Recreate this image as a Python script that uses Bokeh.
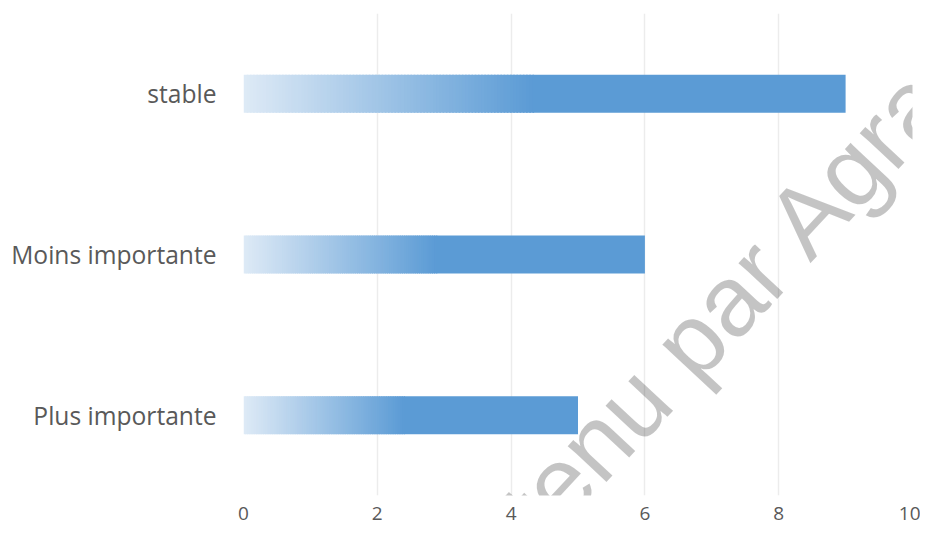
import numpy as np
from bokeh.plotting import figure
from bokeh.models import Range1d, FactorRange, Label, FixedTicker, ColumnDataSource
from bokeh.embed import file_html
from bokeh.resources import INLINE

# ---- data ----
categories = ["Plus importante", "Moins importante", "stable"]
values = [5, 6, 9]
x_ticks = [0, 2, 4, 6, 8, 10]
watermark_text = "obtenu par Agra"

# ---- style ----
LIGHT = np.array([0xDE, 0xEA, 0xF6])
FULL = np.array([0x5B, 0x9B, 0xD5])
GRAD_FRAC = 0.48
N_STEPS = 90
BAR_H = 0.237
TEXT_COLOR = "#595959"
FONT = "Open Sans"

W, H = 920, 532
B_LEFT, B_RIGHT, B_TOP, B_BOTTOM = 243, 8, 13, 37

p = figure(width=W, height=H, output_backend="svg", toolbar_location=None,
           x_range=Range1d(0, 10), y_range=FactorRange(factors=categories),
           min_border_left=B_LEFT, min_border_right=B_RIGHT, min_border_top=B_TOP,
           min_border_bottom=B_BOTTOM)
p.outline_line_color = None
p.background_fill_color = "white"
p.border_fill_color = "white"

# gradient bars: series of thin slices computed from each value
ys, lefts, rights, colors = [], [], [], []
for cat, v in zip(categories, values):
    g_end = v * GRAD_FRAC
    edges = np.linspace(0, g_end, N_STEPS + 1)
    step = edges[1] - edges[0]
    for i in range(N_STEPS):
        t = (i + 0.5) / N_STEPS
        c = LIGHT + (FULL - LIGHT) * t
        ys.append(cat)
        lefts.append(edges[i])
        rights.append(min(edges[i + 1] + step * 0.5, v))
        colors.append("#%02x%02x%02x" % tuple(int(round(x)) for x in c))
    ys.append(cat)
    lefts.append(g_end)
    rights.append(v)
    colors.append("#%02x%02x%02x" % tuple(FULL))

src = ColumnDataSource(dict(y=ys, left=lefts, right=rights, color=colors))
p.hbar(y="y", left="left", right="right", height=BAR_H, fill_color="color",
       line_color=None, source=src)

# axes
p.xaxis.ticker = FixedTicker(ticks=x_ticks)
p.xaxis.axis_line_color = None
p.xaxis.major_tick_line_color = None
p.xaxis.minor_tick_line_color = None
p.xaxis.major_tick_out = 0
p.xaxis.major_tick_in = 0
p.xaxis.major_label_text_font = FONT
p.xaxis.major_label_text_font_size = "19px"
p.xaxis.major_label_text_color = TEXT_COLOR
p.xaxis.major_label_standoff = 11

p.yaxis.axis_line_color = None
p.yaxis.major_tick_line_color = None
p.yaxis.minor_tick_line_color = None
p.yaxis.major_tick_out = 0
p.yaxis.major_tick_in = 0
p.yaxis.major_label_text_font = FONT
p.yaxis.major_label_text_font_size = "24.6px"
p.yaxis.major_label_text_color = TEXT_COLOR
p.yaxis.major_label_standoff = 27

p.xgrid.ticker = FixedTicker(ticks=x_ticks[1:])
p.xgrid.grid_line_color = "#ececec"
p.xgrid.grid_line_width = 1.5
p.ygrid.grid_line_color = None

# watermark (screen units relative to the plot frame, y upward from its bottom)
frame_bottom = H - B_BOTTOM
start_x, start_y = 443.0, 605.0  # canvas pixels of the text's baseline start
wm = Label(x=start_x - B_LEFT, y=frame_bottom - start_y,
           x_units="screen", y_units="screen",
           text=watermark_text, angle=47, angle_units="deg",
           text_align="left", text_baseline="alphabetic",
           text_font="Liberation Sans", text_font_size="100px",
           text_color="black", text_alpha=0.23)
p.add_layout(wm)

open("out.html", "w").write(file_html(p, INLINE))
